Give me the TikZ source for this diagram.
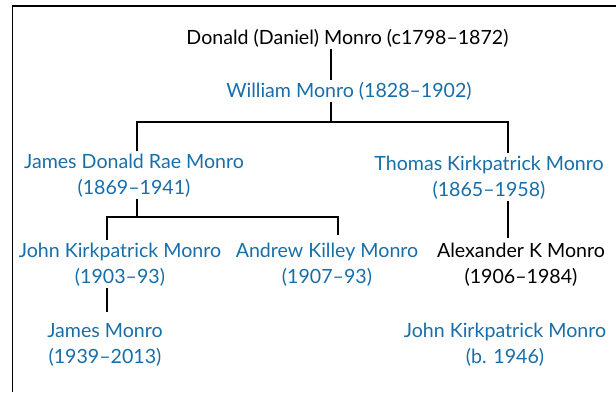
\documentclass[tikz,border=0pt]{standalone}
\usepackage{fontspec}
\setmainfont{Lato}
\usepackage{tikz}
\usetikzlibrary{positioning,calc}

\definecolor{monroblue}{RGB}{24,110,168}

\begin{document}
\begin{tikzpicture}[x=1pt,y=-1pt,
    person/.style={inner sep=2pt, anchor=base, align=center, font=\fontsize{19.6}{26}\selectfont},
    heir/.style={person, text=monroblue},
    link/.style={draw, line width=1.6pt}]
    \useasboundingbox (0,0) rectangle (616,392);
    \draw[line width=1.8pt] (12.5,392) -- (12.5,6) -- (616,6);

    \node (donald) [person] at (347.5,44) {Donald (Daniel) Monro (c1798–1872)};
    \node (william) [heir] at (349,97) {William Monro (1828–1902)};
    \node (james) [heir] at (134,194) {James Donald Rae Monro\\(1869–1941)};
    \node (thomas) [heir] at (489,196) {Thomas Kirkpatrick Monro\\(1865–1958)};
    \node (johnk) [heir] at (120,283) {John Kirkpatrick Monro\\(1903–93)};
    \node (andrew) [heir] at (327,283) {Andrew Killey Monro\\(1907–93)};
    \node (alex) [person] at (521,283) {Alexander K Monro\\(1906–1984)};
    \node (jamesm) [heir] at (105,363) {James Monro\\(1939–2013)};
    \node (johnb) [heir] at (505,363) {John Kirkpatrick Monro\\(b. 1946)};

    % branch points
    \coordinate (trunk) at (331,122);
    \coordinate (jdrop) at (137,122);
    \coordinate (tdrop) at (508,122);
    \coordinate (jbar) at (137,217);
    \coordinate (kdrop) at (107,217);
    \coordinate (adrop) at (338,217);

    \draw[link] (donald.south -| trunk) -- (william.north -| trunk);
    \draw[link] (william.south -| trunk) -- (trunk);
    \draw[link] (james.north -| jdrop) -- (jdrop) -- (tdrop) -- (thomas.north -| tdrop);
    \draw[link] (james.south -| jbar) -- (jbar);
    \draw[link] (johnk.north -| kdrop) -- (kdrop) -- (adrop) -- ([yshift=5pt]andrew.north -| adrop);
    \draw[link] (thomas.south -| tdrop) -- ([yshift=2pt]alex.north -| tdrop);
    \draw[link] (johnk.south -| kdrop) -- ([yshift=9pt]jamesm.north -| kdrop);
\end{tikzpicture}
\end{document}
